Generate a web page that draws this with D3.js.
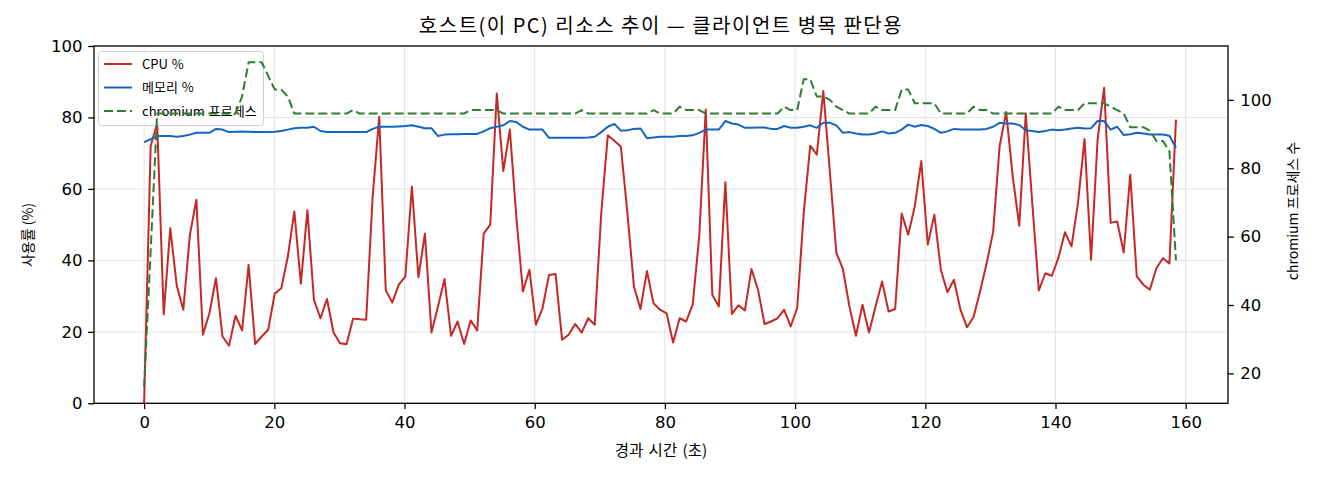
<!DOCTYPE html>
<html>
<head>
<meta charset="utf-8">
<script src="https://cdn.jsdelivr.net/npm/d3@7/dist/d3.min.js"></script>
<style>
  body { margin: 0; background: #fff; }
  text { font-family: "Noto Sans CJK KR", "DejaVu Sans", sans-serif; fill: #000; }
  .tick text { font-family: "DejaVu Sans", sans-serif; font-size: 16.5px; }
</style>
</head>
<body>
<div id="chart"></div>
<script>
// host resource samples, roughly one per second
var cpuPct = [0, 72, 78.4, 24.9, 49, 32.9, 26.2, 47, 57, 19.2,
  25.2, 35, 18.7, 16.1, 24.5, 20.4, 38.7, 16.6, 18.7, 20.6,
  30.7, 32.2, 41, 53.7, 33.5, 54, 29, 23.8, 29.2, 19.8,
  16.8, 16.5, 23.7, 23.5, 23.4, 58, 80.2, 31.6, 28.2, 33.2,
  35.5, 60.6, 35.3, 47.5, 19.8, 27.1, 34.8, 18.9, 22.9, 16.6,
  23.2, 20.4, 47.5, 50, 86.7, 65, 76.6, 52, 31.3, 37.4,
  22, 26.6, 35.9, 36.2, 17.8, 19.2, 22.2, 19.8, 23.8, 22,
  53.3, 75, 73.5, 71.8, 53.3, 32.7, 26.4, 37, 28, 26.2,
  25.2, 17, 23.8, 22.9, 27.6, 46.7, 82.2, 30.4, 27.1, 61.9,
  25, 27.4, 26, 37.6, 31.8, 22.2, 22.9, 23.8, 26.2, 21.5,
  26.6, 53.3, 72.1, 69.6, 87.4, 64.8, 42.1, 37.6, 27.1, 18.9,
  27.6, 19.8, 27.1, 34.1, 25.7, 26.4, 53.1, 47.2, 55.1, 67.8,
  44.4, 52.8, 37.4, 31.1, 34.6, 26.2, 21.3, 24.1, 31.3, 39.1,
  47.9, 72, 81.5, 63.6, 49.7, 81.1, 56, 31.6, 36.4, 35.7,
  40.7, 47.9, 43.9, 56.1, 74, 40.2, 73.8, 88.3, 50.5, 50.9,
  42.2, 64, 35.5, 33.2, 31.8, 37.8, 40.6, 39.1, 79.4];

var memPct = [73.1, 73.9, 74.8, 74.8, 74.8, 74.6, 74.8, 75.2, 75.7, 75.7,
  75.7, 76.8, 76.6, 75.9, 76, 76.1, 76, 75.9, 75.9, 75.9,
  76, 76.2, 76.6, 77, 77.1, 77.1, 77.4, 76.2, 75.9, 75.9,
  75.9, 75.9, 75.9, 75.9, 75.9, 76.8, 77.4, 77.4, 77.4, 77.5,
  77.6, 77.8, 77.4, 77, 77, 74.8, 75.2, 75.3, 75.3, 75.4,
  75.4, 75.4, 76.1, 77, 77.4, 77.8, 79, 78.7, 77.4, 76.6,
  76.6, 76.6, 74.3, 74.3, 74.3, 74.3, 74.3, 74.3, 74.4, 74.6,
  75.9, 77.4, 78.2, 76.3, 76.4, 76.8, 76.9, 74.2, 74.4, 74.6,
  74.6, 74.6, 74.8, 74.8, 75, 75.7, 76.6, 76.6, 76.6, 79,
  78.3, 78, 77.1, 77.1, 77.2, 77.2, 76.8, 76.8, 77.6, 77.1,
  77.1, 77.4, 77.8, 77.1, 78.5, 78.5, 77.8, 75.7, 75.9, 75.5,
  75.2, 75.2, 75.5, 76.1, 75.5, 75.7, 76.6, 78, 77.4, 77.9,
  77.6, 76.8, 75.7, 76.1, 76.8, 76.6, 76.6, 76.6, 76.6, 76.8,
  77.4, 78.5, 78.3, 78.3, 77.9, 76.4, 76.2, 75.9, 76.2, 76.6,
  76.4, 76.6, 76.9, 77.1, 76.9, 77, 79, 79, 76.6, 77.4,
  75.1, 75.3, 75.7, 75.5, 75.2, 75.2, 75.2, 74.9, 71.5];

var chromiumProcs = [16, 56, 96, 96, 96, 96, 96, 96, 96, 96,
  96, 96, 96, 96, 96, 101, 111, 111, 111, 107,
  103, 103, 101, 96, 96, 96, 96, 96, 96, 96,
  96, 96, 97, 96, 96, 96, 96, 96, 96, 96,
  96, 96, 96, 96, 96, 96, 96, 96, 96, 96,
  97, 97, 97, 97, 97, 96, 96, 96, 96, 96,
  96, 96, 96, 96, 96, 96, 96, 97, 96, 96,
  96, 96, 96, 96, 96, 96, 96, 96, 97, 96,
  96, 96, 98, 97, 97, 97, 96, 96, 96, 96,
  96, 96, 96, 96, 96, 96, 96, 96, 98, 97,
  97, 106, 106, 101, 101, 100, 98, 97, 96, 96,
  96, 96, 98, 97, 97, 97, 103, 103, 99, 99,
  99, 99, 96, 96, 96, 96, 96, 98, 97, 97,
  96, 96, 96, 96, 96, 96, 96, 96, 96, 96,
  98, 97, 97, 97, 99, 99, 99, 99, 98, 97,
  96, 92, 92, 92, 91, 88, 88, 85, 53];

var sampleSec = 1.0032;
var xTicks = [0, 20, 40, 60, 80, 100, 120, 140, 160];
var leftTicks = [0, 20, 40, 60, 80, 100];
var rightTicks = [20, 40, 60, 80, 100];
var seriesNames = ["CPU %", "메모리 %", "chromium 프로세스"];
var seriesColors = ["#c62828", "#1565c0", "#2e7d32"];

var W = 1320, H = 480;
var box = {left: 94, right: 1228, top: 46, bottom: 403.3};

var svg = d3.select("#chart")
  .append("svg")
    .attr("width", W)
    .attr("height", H)
    .style("display", "block");

svg.append("rect").attr("width", W).attr("height", H).attr("fill", "#fff");

// scales
var x = d3.scaleLinear()
  .domain([-7.7, 166.5])
  .range([box.left, box.right]);
var yL = d3.scaleLinear()
  .domain([0, 100])
  .range([box.bottom, box.top]);
// twin axis, matplotlib style 5% padding around the data
var cMin = d3.min(chromiumProcs), cMax = d3.max(chromiumProcs), cPad = (cMax - cMin) * 0.05;
var yR = d3.scaleLinear()
  .domain([cMin - cPad, cMax + cPad])
  .range([box.bottom, box.top]);

// grid
var grid = svg.append("g").attr("stroke", "#e4e4e4").attr("stroke-width", 1);
grid.selectAll(".gx").data(xTicks).enter().append("line")
  .attr("x1", function(d) { return x(d); }).attr("x2", function(d) { return x(d); })
  .attr("y1", box.top).attr("y2", box.bottom);
grid.selectAll(".gy").data(leftTicks).enter().append("line")
  .attr("x1", box.left).attr("x2", box.right)
  .attr("y1", function(d) { return yL(d); }).attr("y2", function(d) { return yL(d); });

function tx(d, i) { return x(i * sampleSec); }

var lineL = d3.line().x(tx).y(function(d) { return yL(d); });
var lineR = d3.line().x(tx).y(function(d) { return yR(d); });

svg.append("path")
  .attr("d", lineL(cpuPct))
  .attr("fill", "none")
  .attr("stroke", seriesColors[0])
  .attr("stroke-width", 2)
  .attr("stroke-linejoin", "round");

svg.append("path")
  .attr("d", lineL(memPct))
  .attr("fill", "none")
  .attr("stroke", seriesColors[1])
  .attr("stroke-width", 2)
  .attr("stroke-linejoin", "round");

// legend sits on the left axes, so the twin-axis line ends up above it
var leg = svg.append("g").attr("transform", "translate(98.5,51.5)");
leg.append("rect")
  .attr("width", 165).attr("height", 74)
  .attr("rx", 3)
  .attr("fill", "#fff").attr("fill-opacity", 0.8)
  .attr("stroke", "#d0d0d0").attr("stroke-width", 1);
var rowY = [12.5, 36, 59.5];
var items = leg.selectAll(".item").data(seriesNames).enter().append("g")
  .attr("transform", function(d, i) { return "translate(0," + rowY[i] + ")"; });
items.append("line")
  .attr("x1", 5.5).attr("x2", 33.5)
  .attr("stroke", function(d, i) { return seriesColors[i]; })
  .attr("stroke-width", 2)
  .attr("stroke-dasharray", function(d, i) { return i == 2 ? "9,4" : null; });
items.append("text")
  .attr("x", 43.5)
  .attr("dy", "0.35em")
  .style("font-size", "13px")
  .style("word-spacing", "1px")
  .text(function(d) { return d; });

svg.append("path")
  .attr("d", lineR(chromiumProcs))
  .attr("fill", "none")
  .attr("stroke", seriesColors[2])
  .attr("stroke-width", 2)
  .attr("stroke-dasharray", "9,4")
  .attr("stroke-linejoin", "round");

// axes
var xAxis = svg.append("g")
  .attr("transform", "translate(0," + box.bottom + ")")
  .call(d3.axisBottom(x).tickValues(xTicks).tickSize(5.8).tickPadding(7.5).tickSizeOuter(0));
var lAxis = svg.append("g")
  .attr("transform", "translate(" + box.left + ",0)")
  .call(d3.axisLeft(yL).tickValues(leftTicks).tickSize(5.8).tickPadding(5.7).tickSizeOuter(0));
var rAxis = svg.append("g")
  .attr("transform", "translate(" + box.right + ",0)")
  .call(d3.axisRight(yR).tickValues(rightTicks).tickSize(5.8).tickPadding(6.5).tickSizeOuter(0));
[xAxis, lAxis, rAxis].forEach(function(a) {
  a.select(".domain").remove();
  a.selectAll(".tick line").attr("stroke", "#000").attr("stroke-width", 1.3);
  a.selectAll(".tick text").attr("fill", "#111");
});

svg.append("rect")
  .attr("x", box.left).attr("y", box.top)
  .attr("width", box.right - box.left).attr("height", box.bottom - box.top)
  .attr("fill", "none").attr("stroke", "#000").attr("stroke-width", 1.3);

// labels
svg.append("text")
  .attr("x", (box.left + box.right) / 2).attr("y", 33)
  .attr("text-anchor", "middle")
  .style("font-size", "20px")
  .style("letter-spacing", "1.5px")
  .text("호스트(이 PC) 리소스 추이 — 클라이언트 병목 판단용");

svg.append("text")
  .attr("x", (box.left + box.right) / 2).attr("y", 455.5)
  .attr("text-anchor", "middle")
  .style("font-size", "15.5px")
  .style("word-spacing", "2px")
  .text("경과 시간 (초)");

svg.append("text")
  .attr("transform", "translate(27,235) rotate(-90)")
  .attr("text-anchor", "middle")
  .attr("dominant-baseline", "central")
  .style("font-size", "14px")
  .text("사용률 (%)");

svg.append("text")
  .attr("transform", "translate(1292,211) rotate(-90)")
  .attr("text-anchor", "middle")
  .attr("dominant-baseline", "central")
  .style("font-size", "14px")
  .text("chromium 프로세스 수");
</script>
</body>
</html>
